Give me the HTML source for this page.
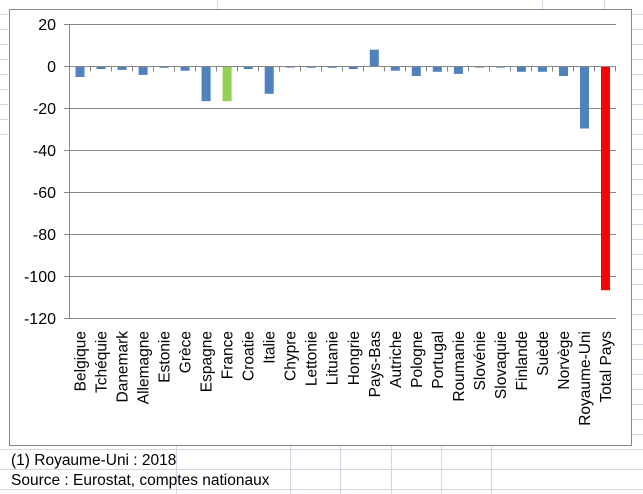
<!DOCTYPE html>
<html><head><meta charset="utf-8"><style>
body{margin:0;background:#fff;}
svg{display:block;font-family:"Liberation Sans",Arial,sans-serif;}
</style></head><body>
<svg width="643" height="494" xmlns="http://www.w3.org/2000/svg">
<g stroke="#d0d7e5" stroke-width="1">
<line x1="217.5" y1="0" x2="217.5" y2="9"/><line x1="542.5" y1="0" x2="542.5" y2="9"/><line x1="604.5" y1="0" x2="604.5" y2="9"/>
<line x1="0" y1="449.5" x2="643" y2="449.5"/><line x1="0" y1="469.5" x2="643" y2="469.5"/><line x1="0" y1="489.5" x2="643" y2="489.5"/>
<line x1="176.5" y1="446" x2="176.5" y2="494"/><line x1="290.5" y1="446" x2="290.5" y2="494"/><line x1="340.5" y1="446" x2="340.5" y2="494"/><line x1="391.5" y1="446" x2="391.5" y2="494"/><line x1="441.5" y1="446" x2="441.5" y2="494"/><line x1="491.5" y1="446" x2="491.5" y2="494"/>
<line x1="0" y1="14.5" x2="8" y2="14.5"/><line x1="0" y1="29.5" x2="8" y2="29.5"/><line x1="0" y1="44.5" x2="8" y2="44.5"/><line x1="0" y1="59.5" x2="8" y2="59.5"/><line x1="0" y1="74.5" x2="8" y2="74.5"/><line x1="0" y1="89.5" x2="8" y2="89.5"/><line x1="0" y1="104.5" x2="8" y2="104.5"/><line x1="0" y1="119.5" x2="8" y2="119.5"/><line x1="0" y1="134.5" x2="8" y2="134.5"/>
<line x1="632" y1="14.5" x2="643" y2="14.5"/><line x1="632" y1="29.5" x2="643" y2="29.5"/><line x1="632" y1="44.5" x2="643" y2="44.5"/><line x1="632" y1="59.5" x2="643" y2="59.5"/><line x1="632" y1="74.5" x2="643" y2="74.5"/><line x1="632" y1="89.5" x2="643" y2="89.5"/><line x1="632" y1="104.5" x2="643" y2="104.5"/><line x1="632" y1="119.5" x2="643" y2="119.5"/><line x1="632" y1="134.5" x2="643" y2="134.5"/><line x1="632" y1="149.5" x2="643" y2="149.5"/><line x1="632" y1="164.5" x2="643" y2="164.5"/><line x1="632" y1="179.5" x2="643" y2="179.5"/><line x1="632" y1="194.5" x2="643" y2="194.5"/><line x1="632" y1="209.5" x2="643" y2="209.5"/><line x1="632" y1="224.5" x2="643" y2="224.5"/><line x1="632" y1="239.5" x2="643" y2="239.5"/><line x1="632" y1="254.5" x2="643" y2="254.5"/><line x1="632" y1="269.5" x2="643" y2="269.5"/><line x1="632" y1="284.5" x2="643" y2="284.5"/><line x1="632" y1="299.5" x2="643" y2="299.5"/><line x1="632" y1="314.5" x2="643" y2="314.5"/><line x1="632" y1="329.5" x2="643" y2="329.5"/><line x1="632" y1="344.5" x2="643" y2="344.5"/><line x1="632" y1="359.5" x2="643" y2="359.5"/><line x1="632" y1="374.5" x2="643" y2="374.5"/><line x1="632" y1="389.5" x2="643" y2="389.5"/><line x1="632" y1="404.5" x2="643" y2="404.5"/><line x1="632" y1="419.5" x2="643" y2="419.5"/><line x1="632" y1="434.5" x2="643" y2="434.5"/>
</g>
<rect x="9.5" y="9.5" width="622" height="436" fill="#fff" stroke="#868686" stroke-width="1"/>
<g stroke="#868686" stroke-width="1">
<line x1="69.5" y1="24.5" x2="616" y2="24.5"/><line x1="69.5" y1="108.5" x2="616" y2="108.5"/><line x1="69.5" y1="150.5" x2="616" y2="150.5"/><line x1="69.5" y1="192.5" x2="616" y2="192.5"/><line x1="69.5" y1="234.5" x2="616" y2="234.5"/><line x1="69.5" y1="276.5" x2="616" y2="276.5"/><line x1="69.5" y1="318.5" x2="616" y2="318.5"/>
<line x1="69.5" y1="24" x2="69.5" y2="319"/>
<line x1="64" y1="24.5" x2="69.5" y2="24.5"/><line x1="64" y1="66.5" x2="69.5" y2="66.5"/><line x1="64" y1="108.5" x2="69.5" y2="108.5"/><line x1="64" y1="150.5" x2="69.5" y2="150.5"/><line x1="64" y1="192.5" x2="69.5" y2="192.5"/><line x1="64" y1="234.5" x2="69.5" y2="234.5"/><line x1="64" y1="276.5" x2="69.5" y2="276.5"/><line x1="64" y1="318.5" x2="69.5" y2="318.5"/>
</g>
<g font-size="16" fill="#000" text-anchor="end">
<text x="56" y="30">20</text><text x="56" y="72">0</text><text x="56" y="114">-20</text><text x="56" y="156">-40</text><text x="56" y="198">-60</text><text x="56" y="240">-80</text><text x="56" y="282">-100</text><text x="56" y="324">-120</text>
</g>
<g fill="#4f81bd">
<rect x="75.5" y="66.5" width="9" height="10.5"/>
<rect x="96.5" y="66.5" width="9" height="2.5"/>
<rect x="117.5" y="66.5" width="9" height="3.4"/>
<rect x="138.6" y="66.5" width="9" height="8.4"/>
<rect x="159.6" y="66.5" width="9" height="1.3"/>
<rect x="180.6" y="66.5" width="9" height="4.2"/>
<rect x="201.6" y="66.5" width="9" height="34.7"/>
<rect x="222.6" y="66.5" width="9" height="34.7" fill="#92d050"/>
<rect x="243.7" y="66.5" width="9" height="2.5"/>
<rect x="264.7" y="66.5" width="9" height="27.3"/>
<rect x="285.7" y="66.5" width="9" height="1.1"/>
<rect x="306.7" y="66.5" width="9" height="1.3"/>
<rect x="327.7" y="66.5" width="9" height="1.3"/>
<rect x="348.8" y="66.5" width="9" height="2.5"/>
<rect x="369.8" y="49.7" width="9" height="16.8"/>
<rect x="390.8" y="66.5" width="9" height="4.2"/>
<rect x="411.8" y="66.5" width="9" height="9.5"/>
<rect x="432.8" y="66.5" width="9" height="5.3"/>
<rect x="453.9" y="66.5" width="9" height="7.4"/>
<rect x="474.9" y="66.5" width="9" height="1.1"/>
<rect x="495.9" y="66.5" width="9" height="1.1"/>
<rect x="516.9" y="66.5" width="9" height="5.3"/>
<rect x="537.9" y="66.5" width="9" height="5.3"/>
<rect x="559" y="66.5" width="9" height="9.5"/>
<rect x="580" y="66.5" width="9" height="62"/>
<rect x="601" y="66.5" width="9" height="223.7" fill="#ff0000"/>
</g>
<g stroke="#868686" stroke-width="1">
<line x1="69.5" y1="66.5" x2="616" y2="66.5"/>
<path d="M90.5 66.5v5M111.5 66.5v5M132.5 66.5v5M153.5 66.5v5M174.5 66.5v5M195.5 66.5v5M216.5 66.5v5M237.5 66.5v5M258.5 66.5v5M279.5 66.5v5M300.5 66.5v5M321.5 66.5v5M342.5 66.5v5M363.5 66.5v5M384.5 66.5v5M405.5 66.5v5M426.5 66.5v5M447.5 66.5v5M468.5 66.5v5M489.5 66.5v5M510.5 66.5v5M531.5 66.5v5M552.5 66.5v5M573.5 66.5v5M594.5 66.5v5M615.5 66.5v5"/>
</g>
<g font-size="15.5" fill="#000" text-anchor="end">
<text transform="translate(85.5,331) rotate(-90)">Belgique</text>
<text transform="translate(106.5,331) rotate(-90)">Tchéquie</text>
<text transform="translate(127.5,331) rotate(-90)">Danemark</text>
<text transform="translate(148.6,331) rotate(-90)">Allemagne</text>
<text transform="translate(169.6,331) rotate(-90)">Estonie</text>
<text transform="translate(190.6,331) rotate(-90)">Grèce</text>
<text transform="translate(211.6,331) rotate(-90)">Espagne</text>
<text transform="translate(232.6,331) rotate(-90)">France</text>
<text transform="translate(253.7,331) rotate(-90)">Croatie</text>
<text transform="translate(274.7,331) rotate(-90)">Italie</text>
<text transform="translate(295.7,331) rotate(-90)">Chypre</text>
<text transform="translate(316.7,331) rotate(-90)">Lettonie</text>
<text transform="translate(337.7,331) rotate(-90)">Lituanie</text>
<text transform="translate(358.8,331) rotate(-90)">Hongrie</text>
<text transform="translate(379.8,331) rotate(-90)">Pays-Bas</text>
<text transform="translate(400.8,331) rotate(-90)">Autriche</text>
<text transform="translate(421.8,331) rotate(-90)">Pologne</text>
<text transform="translate(442.8,331) rotate(-90)">Portugal</text>
<text transform="translate(463.9,331) rotate(-90)">Roumanie</text>
<text transform="translate(484.9,331) rotate(-90)">Slovénie</text>
<text transform="translate(505.9,331) rotate(-90)">Slovaquie</text>
<text transform="translate(526.9,331) rotate(-90)">Finlande</text>
<text transform="translate(547.9,331) rotate(-90)">Suède</text>
<text transform="translate(569,331) rotate(-90)">Norvège</text>
<text transform="translate(590,331) rotate(-90)">Royaume-Uni</text>
<text transform="translate(611,331) rotate(-90)">Total Pays</text>
</g>
<g font-size="15.5" fill="#000">
<text x="11" y="465">(1) Royaume-Uni : 2018</text>
<text x="11" y="485">Source : Eurostat, comptes nationaux</text>
</g>
</svg>
</body></html>
